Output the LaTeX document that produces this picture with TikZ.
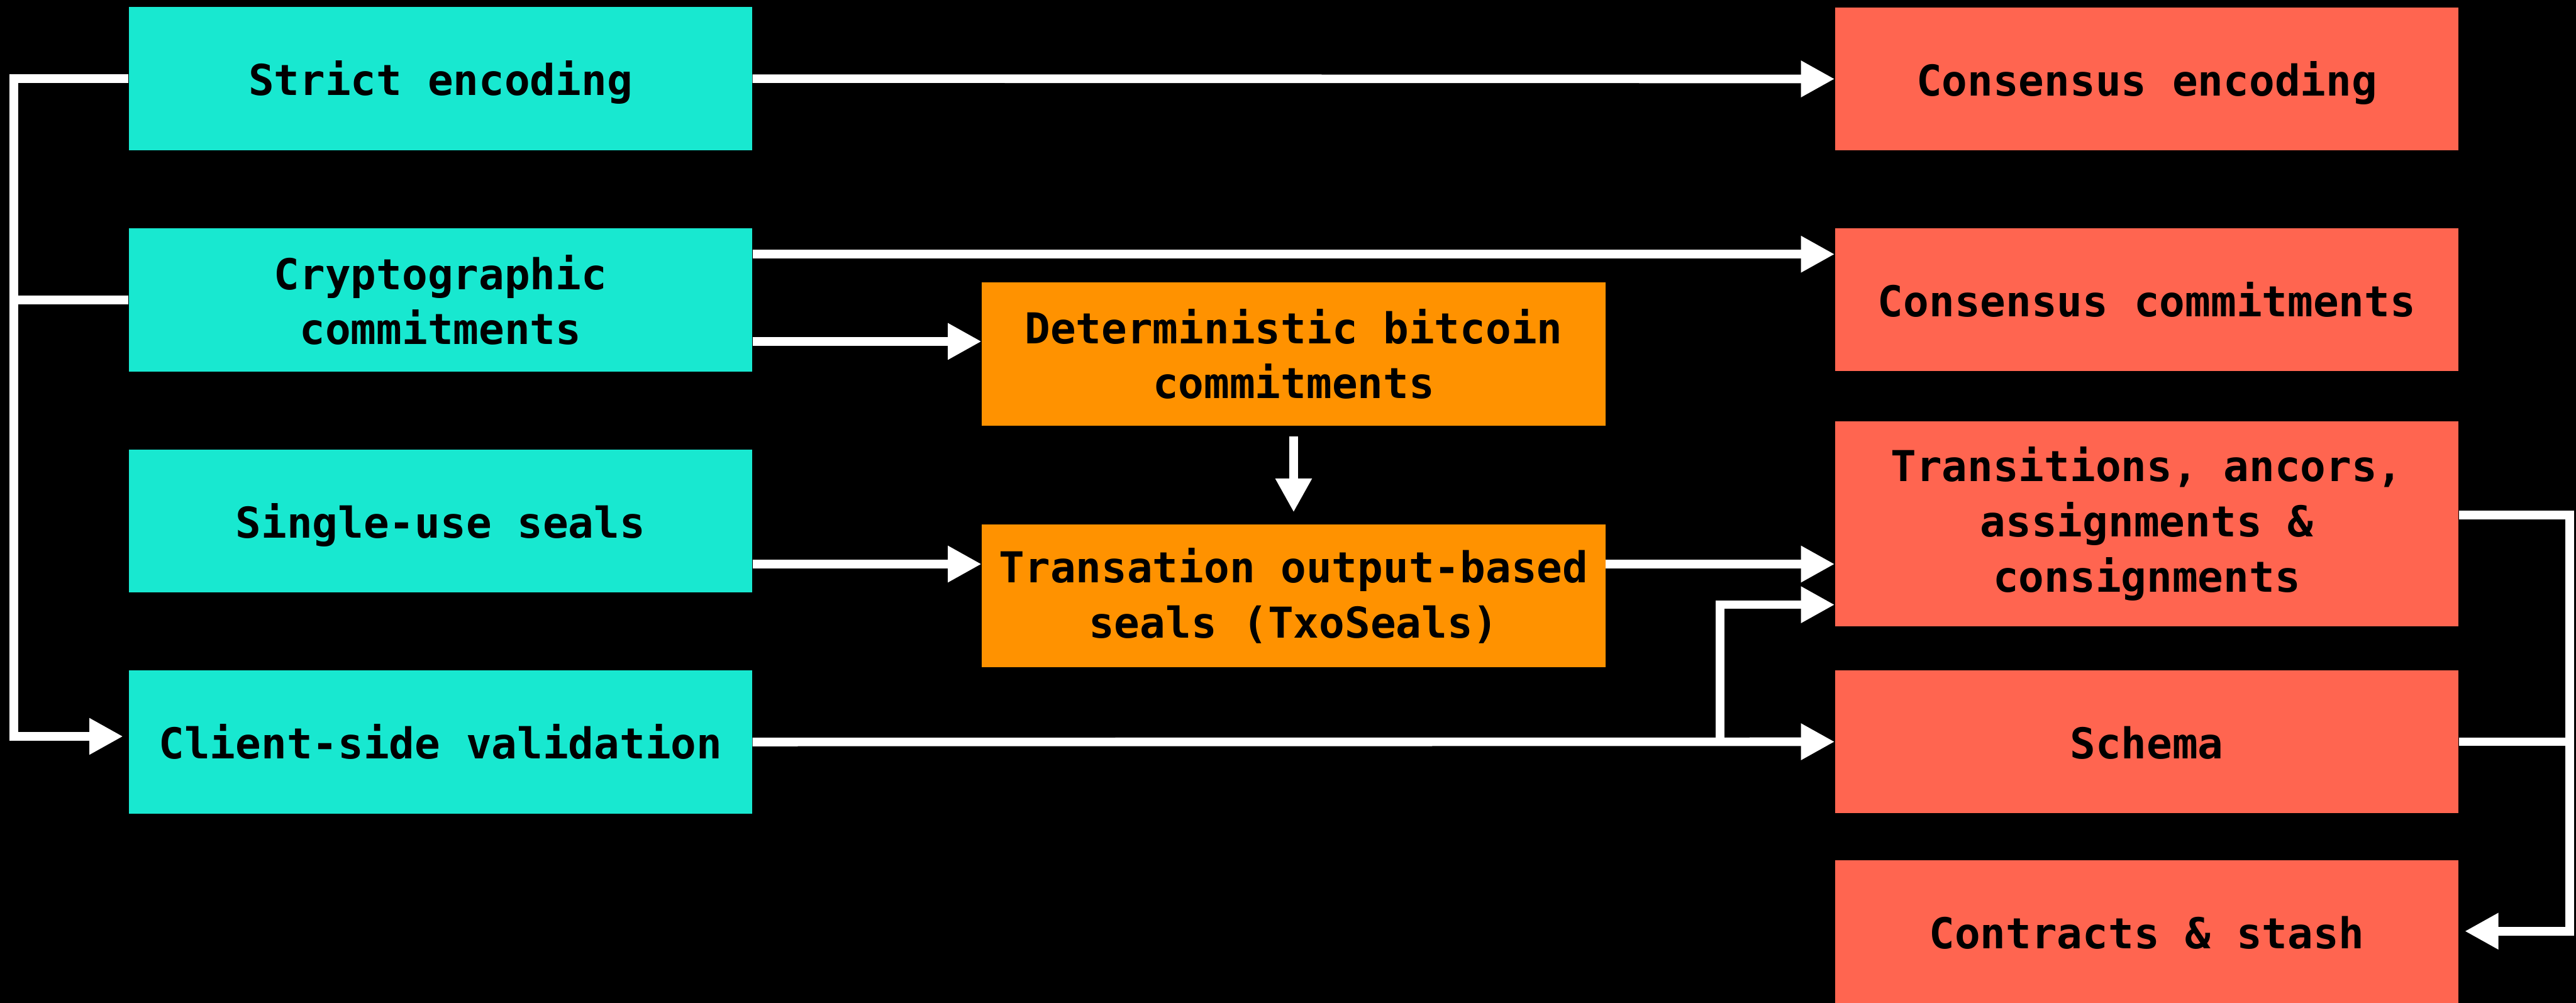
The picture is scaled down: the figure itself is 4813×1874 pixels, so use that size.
\documentclass[tikz,border=0pt]{standalone}
\usepackage{fontspec}
\setmonofont{DejaVu Sans Mono}
\usetikzlibrary{arrows.meta}
\definecolor{tealbox}{RGB}{24,232,208}
\definecolor{orangebox}{RGB}{255,146,0}
\definecolor{redbox}{RGB}{255,101,80}
\tikzset{
  box/.style={draw=none, inner sep=0pt, minimum width=11.64cm, minimum height=2.67cm,
    align=center, text=black,
    font=\ttfamily\bfseries\fontsize{22.6pt}{29.3pt}\selectfont},
  oneline/.style={text height=0.75cm, text depth=0.12cm},
  basebox/.style={box, fill=tealbox},
  midbox/.style={box, fill=orangebox},
  outbox/.style={box, fill=redbox},
  wire/.style={draw=white, line width=0.16cm, line join=miter},
  arr/.style={wire, -{Triangle[length=0.63cm, width=0.64cm]}},
}
\begin{document}
\begin{tikzpicture}[x=0.01cm, y=-0.01cm]
  \useasboundingbox (0,0) rectangle (4813,1874);
  \fill[black] (0,0) rectangle (4813,1874);

  % base layer
  \node[basebox, oneline] (strict) at (823,147) {Strict encoding};
  \node[basebox] (crypto) at (823,560.5) {Cryptographic\\commitments};
  \node[basebox, oneline] (single) at (823,973.5) {Single-use seals};
  \node[basebox, oneline] (client) at (823,1386.5) {Client-side validation};

  % bitcoin layer
  \node[midbox] (det) at (2417,661.5) {Deterministic bitcoin\\commitments};
  \node[midbox] (txo) at (2417,1113.5) {Transation output-based\\seals (TxoSeals)};

  % consensus layer
  \node[outbox, oneline] (cenc) at (4011,147.5) {Consensus encoding};
  \node[outbox, oneline] (ccom) at (4011,560) {Consensus commitments};
  \node[outbox, minimum height=3.83cm] (trans) at (4011,979) {Transitions, ancors,\\assignments \&\\consignments};
  \node[outbox, oneline] (schema) at (4011,1386) {Schema};
  \node[outbox, oneline] (contracts) at (4011,1741) {Contracts \& stash};

  % bus lines
  \coordinate (lbus) at (25.5,0);
  \coordinate (rbus) at (4801,0);
  \coordinate (split) at (3214,0);

  % left bus: strict encoding and commitments feed validation
  \draw[arr] (strict.west) -| (lbus |- 0,1376) -- ([xshift=-0.1cm]client.west |- 0,1376);
  \draw[wire] (crypto.west) -- (lbus |- crypto.west);

  % straight links
  \draw[arr] (strict.east) -- (cenc.west);
  \draw[arr] (crypto.east |- 0,475) -- (ccom.west |- 0,475);
  \draw[arr] (crypto.east |- 0,638) -- (det.west |- 0,638);
  \draw[arr] ([yshift=-0.2cm]det.south) -- ([yshift=0.22cm]txo.north);
  \draw[arr] (single.east |- 0,1054) -- (txo.west |- 0,1054);
  \draw[arr] (txo.east |- 0,1054) -- (trans.west |- 0,1054);
  \draw[arr] (client.east) -- (schema.west);
  \draw[arr] (split |- client.east) |- (trans.west |- 0,1130);

  % right bus into contracts
  \draw[arr] (trans.east |- 0,962) -| (rbus |- 0,1740) -- ([xshift=0.11cm]contracts.east |- 0,1740);
  \draw[wire] (schema.east) -- (rbus |- schema.east);
\end{tikzpicture}
\end{document}
